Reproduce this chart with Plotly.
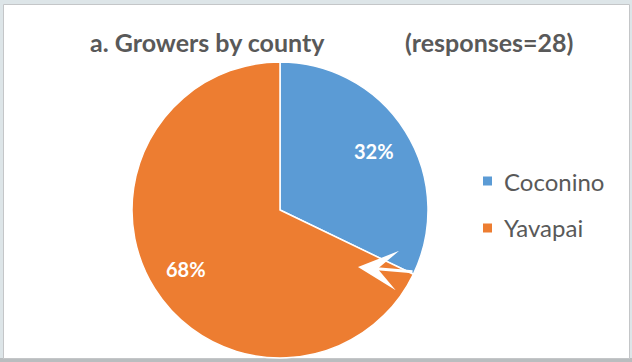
import math
import plotly.graph_objects as go

# Survey responses by county (28 growers)
counties = ["Coconino", "Yavapai"]
growers = [9, 19]
colors = ["#5B9BD5", "#ED7D31"]
title_left = "a. Growers by county"
title_right = "(responses=28)"

W, H = 632, 362
TEXT_GRAY = "#595959"
FONT = "Lato"

# pie placement (pixels)
CX, CY, R = 280, 210, 148

fig = go.Figure()

fig.add_trace(go.Pie(
    labels=counties,
    values=growers,
    sort=False,
    direction="clockwise",
    rotation=0,
    marker=dict(colors=colors, line=dict(color="white", width=1.5)),
    textinfo="none",
    domain=dict(x=[(CX - R) / W, (CX + R) / W], y=[1 - (CY + R) / H, 1 - (CY - R) / H]),
    showlegend=False,
    hoverinfo="label+percent",
))

shapes = [
    # chart frame
    dict(type="rect", xref="paper", yref="paper", x0=0, x1=1, y0=0, y1=4 / H,
         fillcolor="#b9bdbf", line=dict(width=0), layer="below"),
    dict(type="rect", xref="paper", yref="paper", x0=3.5 / W, x1=629.5 / W,
         y0=1 - 358.5 / H, y1=1 - 4.5 / H,
         fillcolor="white", line=dict(color="#c4c6c8", width=1), layer="below"),
]

annotations = [
    dict(text=f"<b>{title_left}</b>", x=207 / W, y=1 - 42 / H, xref="paper", yref="paper",
         showarrow=False, xanchor="center", yanchor="middle",
         font=dict(family=FONT, size=25, color=TEXT_GRAY)),
    dict(text=f"<b>{title_right}</b>", x=489 / W, y=1 - 42 / H, xref="paper", yref="paper",
         showarrow=False, xanchor="center", yanchor="middle",
         font=dict(family=FONT, size=25, color=TEXT_GRAY)),
    # white pointer arrow on the slice boundary
    dict(text="", x=358 / W, y=1 - 267 / H, xref="paper", yref="paper",
         ax=56, ay=5, axref="pixel", ayref="pixel",
         showarrow=True, arrowhead=3, arrowwidth=3, arrowsize=2.2, arrowcolor="white"),
]

# percentage labels placed along each slice's bisector
total = sum(growers)
start = 0.0
for v in growers:
    frac = v / total
    mid = (start + frac / 2) * 2 * math.pi
    start += frac
    px = CX + 0.75 * R * math.sin(mid)
    py = CY - 0.75 * R * math.cos(mid)
    annotations.append(dict(text=f"<b>{frac:.0%}</b>", x=px / W, y=1 - py / H,
                            xref="paper", yref="paper", showarrow=False,
                            xanchor="center", yanchor="middle",
                            font=dict(family=FONT, size=20, color="white")))

# legend entries: colour swatch + county name
legend_y = [181, 228]
for name, col, ly in zip(counties, colors, legend_y):
    shapes.append(dict(type="rect", xref="paper", yref="paper",
                       x0=483 / W, x1=492 / W, y0=1 - (ly + 4.5) / H, y1=1 - (ly - 4.5) / H,
                       fillcolor=col, line=dict(width=0)))
    annotations.append(dict(text=name, x=502 / W, y=1 - ly / H, xref="paper", yref="paper",
                            showarrow=False, xanchor="left", yanchor="middle",
                            font=dict(family=FONT, size=24, color=TEXT_GRAY)))

fig.update_layout(
    width=W, height=H,
    margin=dict(l=0, r=0, t=0, b=0),
    paper_bgcolor="#dde5e8",
    plot_bgcolor="white",
    shapes=shapes,
    annotations=annotations,
    showlegend=False,
)

fig.write_html("out.html")
